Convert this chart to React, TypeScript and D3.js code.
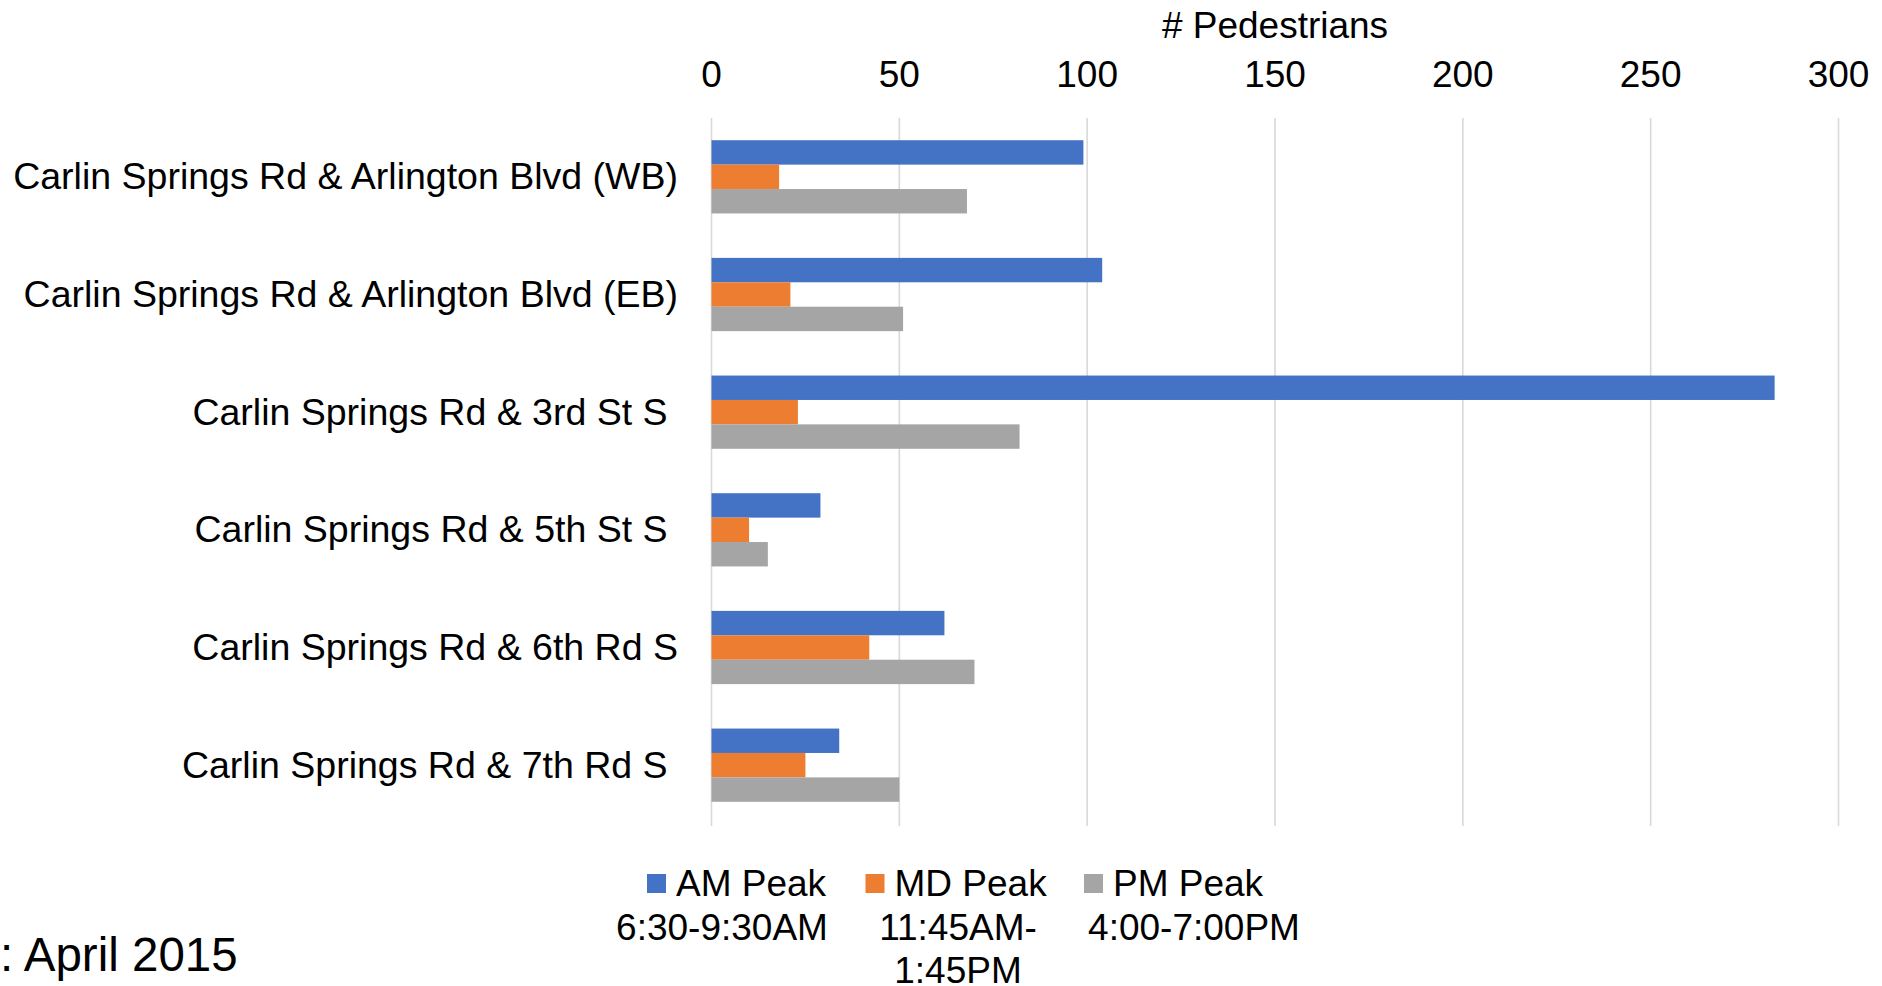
import React from 'react';
import * as d3 from 'd3';

// 路口名称（部分带尾随空格，与原图右对齐位置一致）
const categories = [
  'Carlin Springs Rd & Arlington Blvd (WB)',
  'Carlin Springs Rd & Arlington Blvd (EB)',
  'Carlin Springs Rd & 3rd St S ',
  'Carlin Springs Rd & 5th St S ',
  'Carlin Springs Rd & 6th Rd S',
  'Carlin Springs Rd & 7th Rd S '
];
const seriesKeys = ['am', 'md', 'pm'];
const seriesNames = ['AM Peak', 'MD Peak', 'PM Peak'];
const seriesPeriods = [['6:30-9:30AM'], ['11:45AM-', '1:45PM'], ['4:00-7:00PM']];
const seriesColors = ['#4472C4', '#ED7D31', '#A5A5A5'];
const amPeak = [99, 104, 283, 29, 62, 34];
const mdPeak = [18, 21, 23, 10, 42, 25];
const pmPeak = [68, 51, 82, 15, 70, 50];
const xTicks = [0, 50, 100, 150, 200, 250, 300];
const axisTitle = '# Pedestrians';
const footnote = ': April 2015';

const WIDTH = 1882;
const HEIGHT = 986;
const FONT = '"Liberation Sans", Arial, Helvetica, sans-serif';

export default function App(): JSX.Element {
  const margin = { top: 118, right: 43.5, bottom: 162, left: 711.5 };
  const plotBottom = HEIGHT - margin.bottom;
  const plotRight = WIDTH - margin.right;

  const x = d3.scaleLinear().domain([0, 300]).range([margin.left, plotRight]);
  const y0 = d3.scaleBand().domain(categories).range([margin.top, plotBottom]);
  // Excel 默认 gap width 182%
  const y1 = d3.scaleBand().domain(seriesKeys).range([0, y0.bandwidth()]).paddingOuter(0.91);

  const values: Record<string, number[]> = { am: amPeak, md: mdPeak, pm: pmPeak };

  // 图例位置
  const legendY = 874;
  const legendSquareX = (i: number) => 647 + i * 218.5;
  const legendSubCenter = (i: number) => 722 + i * 236;

  return (
    <div style={{ position: 'absolute', left: 0, top: 0 }}>
      <svg width={WIDTH} height={HEIGHT} style={{ display: 'block', background: '#fff' }} fontFamily={FONT}>
        {/* 网格线 */}
        {xTicks.map((t) => (
          <line
            key={'g' + t}
            x1={x(t)}
            x2={x(t)}
            y1={margin.top}
            y2={plotBottom + 2}
            stroke="#D9D9D9"
            strokeWidth={1.6}
          />
        ))}
        {/* 刻度标签 */}
        {xTicks.map((t) => (
          <text key={'t' + t} x={x(t)} y={87} textAnchor="middle" fontSize={37} fill="#000">
            {t}
          </text>
        ))}
        <text x={(margin.left + plotRight) / 2} y={38} textAnchor="middle" fontSize={37} fill="#000">
          {axisTitle}
        </text>
        {/* 柱子 */}
        {categories.map((c, ci) => (
          <g key={c} transform={`translate(0, ${y0(c)})`}>
            {seriesKeys.map((k, si) => (
              <rect
                key={k}
                x={x(0)}
                y={y1(k) as number}
                width={x(values[k][ci]) - x(0)}
                height={y1.bandwidth()}
                fill={seriesColors[si]}
              />
            ))}
          </g>
        ))}
        {/* 类别标签 */}
        {categories.map((c) => (
          <text
            key={'c' + c}
            x={678}
            y={(y0(c) as number) + y0.bandwidth() / 2}
            dy="0.33em"
            textAnchor="end"
            fontSize={37.5}
            fill="#000"
            style={{ whiteSpace: 'pre' }}
          >
            {c}
          </text>
        ))}
        {/* 图例 */}
        {seriesNames.map((name, i) => (
          <g key={name}>
            <rect x={legendSquareX(i)} y={legendY} width={19} height={19} fill={seriesColors[i]} />
            <text x={legendSquareX(i) + 29} y={896} fontSize={37} fill="#000">
              {name}
            </text>
            {seriesPeriods[i].map((line, li) => (
              <text key={line} x={legendSubCenter(i)} y={940 + li * 43} textAnchor="middle" fontSize={37} fill="#000">
                {line}
              </text>
            ))}
          </g>
        ))}
        <text x={0} y={971} fontSize={47.5} fill="#000" style={{ whiteSpace: 'pre' }}>
          {footnote}
        </text>
      </svg>
    </div>
  );
}
